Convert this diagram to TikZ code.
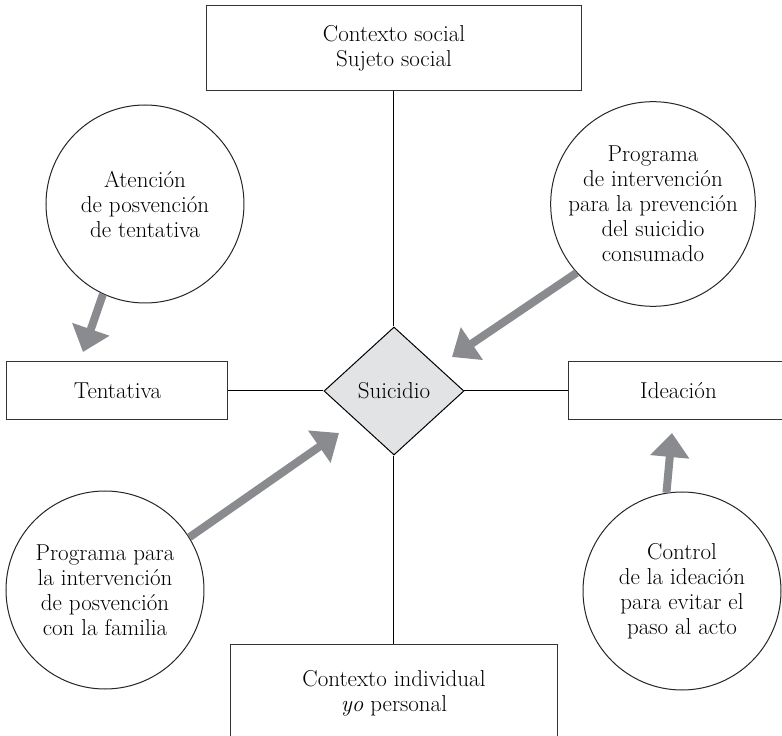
\documentclass[tikz,border=0pt]{standalone}
\usepackage{tikz}
\usetikzlibrary{arrows.meta,positioning,shapes.geometric}
\definecolor{flowgray}{HTML}{8A8B8E}
\definecolor{suifill}{HTML}{E2E3E5}

\begin{document}
\begin{tikzpicture}[x=1pt,y=1pt,
  font=\fontsize{23}{25}\selectfont,
  rbox/.style={draw=black!80,minimum width=221pt,minimum height=58pt,align=center},
  prog/.style={circle,draw=black!85,minimum size=198pt,inner sep=0pt,align=center},
  flow/.style={draw=flowgray,line width=8pt,-{Triangle[width=38pt,length=24pt]}}]
\tikzstyle{every path}=[line width=1pt];
\useasboundingbox (-394,-345) rectangle (388,391);
\node[diamond,draw,fill=suifill,minimum width=140pt,minimum height=128pt,inner sep=0pt] (sui) at (0,0) {Suicidio};
\node[rbox] (tent) [left=95pt of sui] {Tentativa};
\node[rbox] (idea) [right=103pt of sui] {Ideación};
\node[rbox,minimum width=374pt,minimum height=85pt] (social) [above=235pt of sui] {Contexto social\\Sujeto social};
\node[rbox,minimum width=327pt,minimum height=98pt] (indiv) [below=188pt of sui] {Contexto individual\\\textit{yo} personal};
\path (social) edge (sui);
\path (sui) edge (indiv);
\path (tent) edge (sui);
\path (sui) edge (idea);
% programas
\node[prog] (atenc) at (-249,187) {Atención\\de posvención\\de tentativa};
\node[prog] (prevc) at (259,187) {Programa\\de intervención\\para la prevención\\del suicidio\\consumado};
\node[prog] (famil) at (-289,-199) {Programa para\\la intervención\\de posvención\\con la familia};
\node[prog] (ctrl) at (288,-200) {Control\\de la ideación\\para evitar el\\paso al acto};
\coordinate (tipa) at (-311,39);
\coordinate (tipb) at (58,34);
\coordinate (tipc) at (-55,-42);
\coordinate (tipd) at (278,-42);
\draw[flow] (atenc.245) -- (tipa);
\draw[flow] (prevc.222) -- (tipb);
\draw[flow] (famil.32) -- (tipc);
\draw[flow] (ctrl.99) -- (tipd);
\end{tikzpicture}
\end{document}
